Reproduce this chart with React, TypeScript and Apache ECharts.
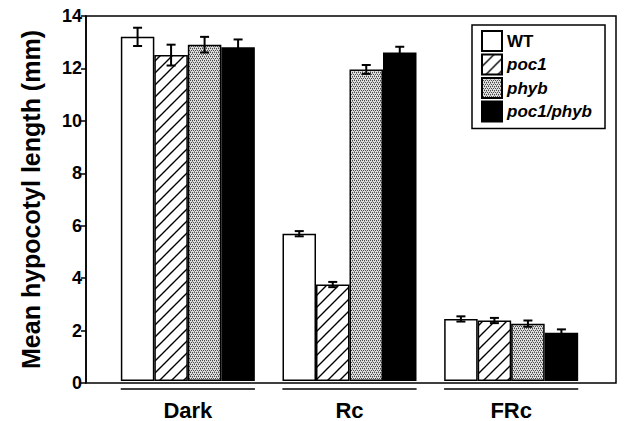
import React, { useEffect, useRef } from 'react';
import * as echarts from 'echarts';

const categories = ['Dark', 'Rc', 'FRc'];
const seriesNames = ['WT', 'poc1', 'phyb', 'poc1/phyb'];
const wtValues = [13.2, 5.65, 2.38];
const poc1Values = [12.5, 3.7, 2.32];
const phybValues = [12.9, 11.95, 2.2];
const poc1PhybValues = [12.8, 12.6, 1.85];
const wtErrors = [0.35, 0.1, 0.1];
const poc1Errors = [0.4, 0.1, 0.1];
const phybErrors = [0.3, 0.17, 0.12];
const poc1PhybErrors = [0.3, 0.22, 0.13];
const yAxisTitle = 'Mean hypocotyl length (mm)';

const BAR_W = 33.5;
const FONT = '"Liberation Sans", Arial, Helvetica, sans-serif';

function makeHatch() {
  const c = document.createElement('canvas');
  c.width = 12;
  c.height = 12;
  const ctx = c.getContext('2d')!;
  ctx.fillStyle = '#ffffff';
  ctx.fillRect(0, 0, 12, 12);
  ctx.strokeStyle = '#000000';
  ctx.lineWidth = 1.4;
  ctx.beginPath();
  ctx.moveTo(-1, 13);
  ctx.lineTo(13, -1);
  ctx.moveTo(-4, 4);
  ctx.lineTo(4, -4);
  ctx.moveTo(8, 16);
  ctx.lineTo(16, 8);
  ctx.stroke();
  return c;
}

function makeStipple() {
  const c = document.createElement('canvas');
  c.width = 4;
  c.height = 4;
  const ctx = c.getContext('2d')!;
  ctx.fillStyle = '#dedede';
  ctx.fillRect(0, 0, 4, 4);
  ctx.fillStyle = '#4a4a4a';
  ctx.fillRect(0, 0, 1, 1);
  ctx.fillRect(2, 0, 1, 1);
  ctx.fillRect(1, 2, 1, 1);
  ctx.fillRect(3, 2, 1, 1);
  ctx.fillStyle = '#909090';
  ctx.fillRect(0, 1, 1, 1);
  ctx.fillRect(2, 3, 1, 1);
  return c;
}

export default function App() {
  const ref = useRef<HTMLDivElement>(null);
  useEffect(() => {
    document.body.style.margin = '0';
    const chart = echarts.init(ref.current!, null, { renderer: 'svg' });
    const hatch = makeHatch();
    const stipple = makeStipple();
    const fills: any[] = [
      '#ffffff',
      { image: hatch, repeat: 'repeat', imageWidth: 12, imageHeight: 12 },
      { image: stipple, repeat: 'repeat', imageWidth: 4, imageHeight: 4 },
      '#000000',
    ];
    const values = [wtValues, poc1Values, phybValues, poc1PhybValues];
    const errors = [wtErrors, poc1Errors, phybErrors, poc1PhybErrors];

    const errData: number[][] = [];
    values.forEach((vals, s) => {
      vals.forEach((v, c) => errData.push([c, s, v, errors[s][c]]));
    });

    const barSeries = seriesNames.map((name, s) => ({
      name,
      type: 'bar',
      xAxisIndex: 1,
      yAxisIndex: 1,
      barWidth: BAR_W,
      barGap: '0%',
      data: values[s],
      itemStyle: { color: fills[s], borderColor: '#000', borderWidth: 1.5 },
    }));

    chart.setOption({
      animation: false,
      backgroundColor: '#ffffff',
      grid: [
        { left: 86, right: 9, top: 16, bottom: 38, show: true, borderColor: '#000', borderWidth: 1.5, backgroundColor: 'transparent' },
        { left: 107, right: 33, top: 16, bottom: 38 },
      ],
      xAxis: [
        { type: 'value', gridIndex: 0, min: 0, max: 1, show: false },
        {
          type: 'category',
          gridIndex: 1,
          data: categories,
          axisLine: { show: false },
          axisTick: { show: false },
          axisLabel: { fontFamily: FONT, fontWeight: 'bold', fontSize: 22, color: '#000', margin: 18 },
        },
      ],
      yAxis: [
        {
          type: 'value',
          gridIndex: 0,
          min: 0,
          max: 14,
          interval: 2,
          splitLine: { show: false },
          axisLine: { show: true, lineStyle: { color: '#000', width: 1.5 } },
          axisTick: { show: true, length: 5, lineStyle: { color: '#000', width: 1.5 } },
          axisLabel: { fontFamily: FONT, fontWeight: 'bold', fontSize: 18, color: '#000', margin: 4 },
          name: yAxisTitle,
          nameLocation: 'middle',
          nameGap: 43,
          nameTextStyle: { fontFamily: FONT, fontWeight: 'bold', fontSize: 25, color: '#000' },
        },
        { type: 'value', gridIndex: 1, min: 0, max: 14, show: false },
      ],
      legend: {
        orient: 'vertical',
        left: 472,
        top: 25,
        padding: [5, 13, 6, 9],
        itemWidth: 20,
        itemHeight: 20,
        itemGap: 1.5,
        borderColor: '#000',
        borderWidth: 1.5,
        icon: 'rect',
        textStyle: { fontFamily: FONT, fontWeight: 'bold', fontSize: 17, color: '#000' },
        data: seriesNames.map((n, i) => ({
          name: n,
          textStyle: { fontStyle: i === 0 ? 'normal' : 'italic' },
        })),
      },
      series: [
        ...barSeries,
        {
          type: 'custom',
          xAxisIndex: 1,
          yAxisIndex: 1,
          clip: false,
          z: 5,
          data: errData,
          encode: { x: 0, y: 2 },
          renderItem: (params: any, api: any) => {
            const c = api.value(0);
            const s = api.value(1);
            const v = api.value(2);
            const e = api.value(3);
            const top = api.coord([c, v + e]);
            const bot = api.coord([c, v - e]);
            const x = top[0] + (s - 1.5) * BAR_W;
            const cap = 4.5;
            const st = { stroke: '#000', lineWidth: 2 };
            return {
              type: 'group',
              children: [
                { type: 'line', shape: { x1: x, y1: top[1], x2: x, y2: bot[1] }, style: st },
                { type: 'line', shape: { x1: x - cap, y1: top[1], x2: x + cap, y2: top[1] }, style: st },
                { type: 'line', shape: { x1: x - cap, y1: bot[1], x2: x + cap, y2: bot[1] }, style: st },
              ],
            };
          },
        },
        {
          type: 'custom',
          xAxisIndex: 1,
          yAxisIndex: 1,
          clip: false,
          data: categories.map((_, i) => [i, 0]),
          encode: { x: 0, y: 1 },
          renderItem: (params: any, api: any) => {
            const p = api.coord([api.value(0), 0]);
            const band = api.size([1, 0])[0];
            const half = band * 0.415;
            return {
              type: 'line',
              shape: { x1: p[0] - half, y1: p[1] + 8, x2: p[0] + half, y2: p[1] + 8 },
              style: { stroke: '#000', lineWidth: 1.5 },
            };
          },
        },
      ],
    });
    return () => chart.dispose();
  }, []);
  return <div ref={ref} style={{ width: 625, height: 421 }} />;
}
